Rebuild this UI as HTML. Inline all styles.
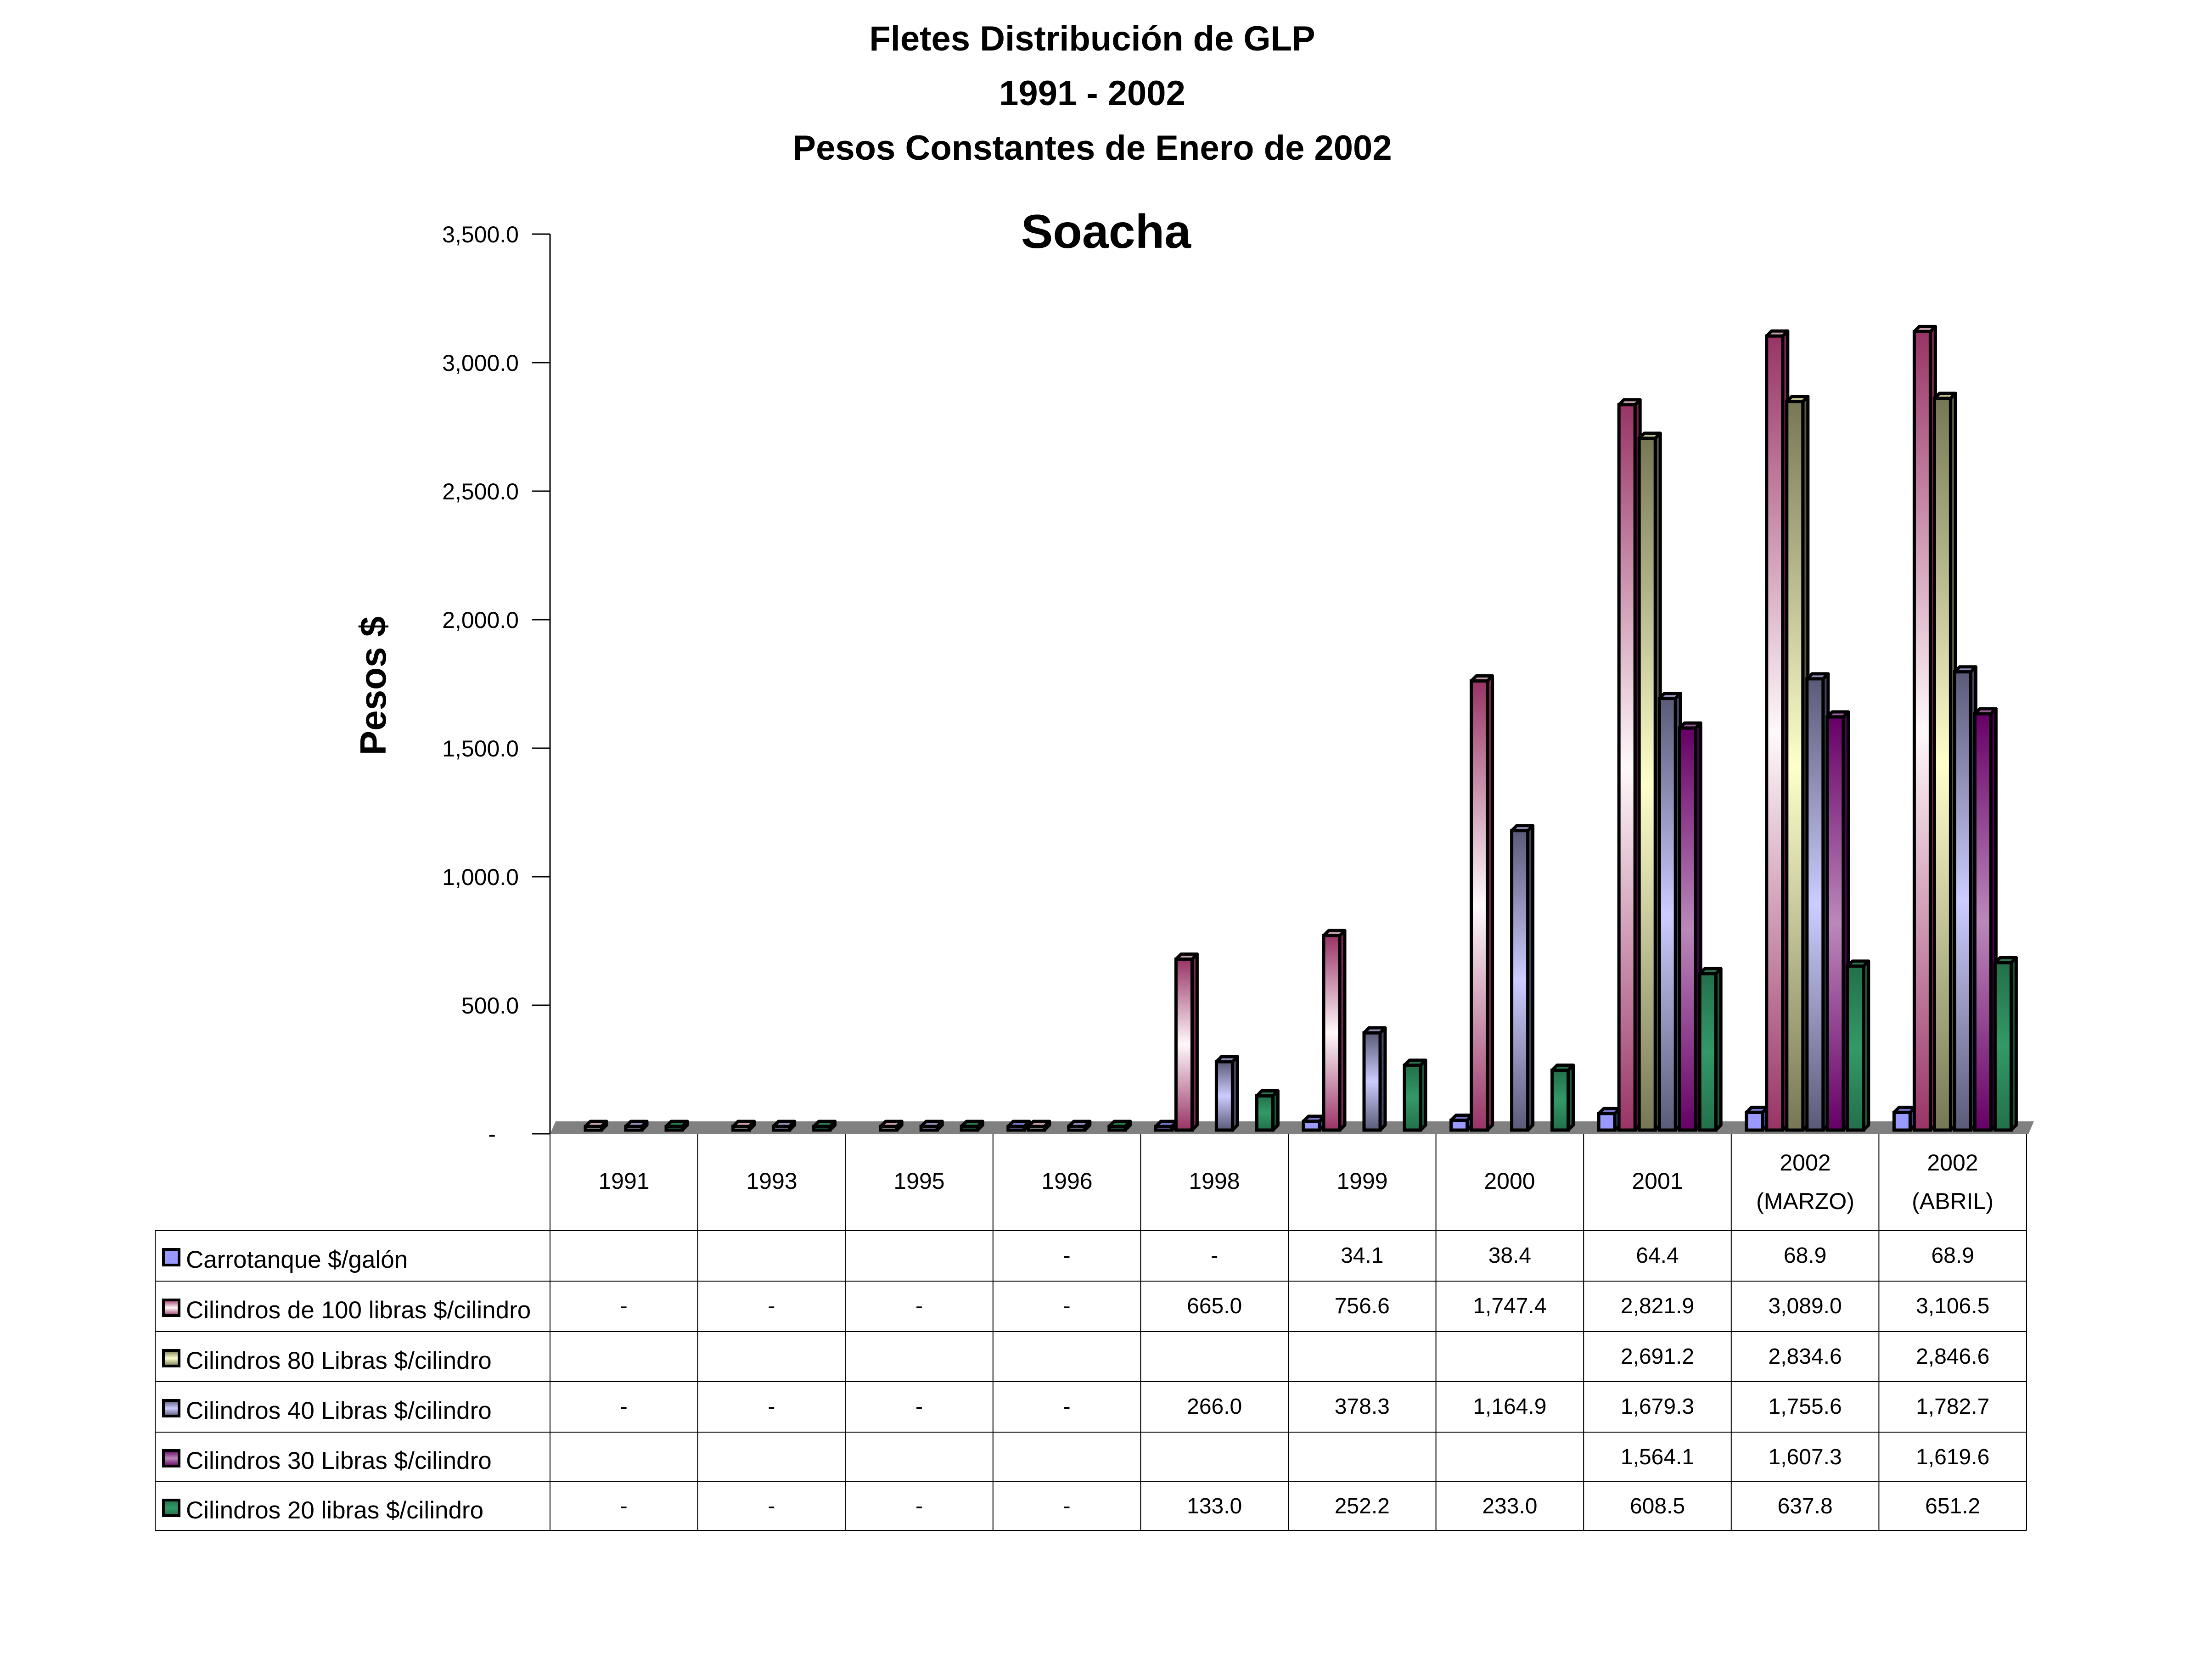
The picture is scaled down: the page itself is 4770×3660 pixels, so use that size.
<!DOCTYPE html>
<html><head><meta charset="utf-8"><style>
html,body{margin:0;padding:0;background:#fff}
svg{display:block}
text{font-family:"Liberation Sans",sans-serif;fill:#000}
</style></head><body>
<svg id="s" width="4770" height="3660" viewBox="0 0 4770 3660" xmlns="http://www.w3.org/2000/svg">
<defs>
<linearGradient id="g1" x1="0" y1="0" x2="0" y2="1"><stop offset="0" stop-color="#993366"/><stop offset="0.5" stop-color="#fff8fb"/><stop offset="1" stop-color="#993366"/></linearGradient>
<linearGradient id="g2" x1="0" y1="0" x2="0" y2="1"><stop offset="0" stop-color="#777755"/><stop offset="0.5" stop-color="#ffffcc"/><stop offset="1" stop-color="#777755"/></linearGradient>
<linearGradient id="g3" x1="0" y1="0" x2="0" y2="1"><stop offset="0" stop-color="#5a5a78"/><stop offset="0.5" stop-color="#ccccff"/><stop offset="1" stop-color="#5a5a78"/></linearGradient>
<linearGradient id="g4" x1="0" y1="0" x2="0" y2="1"><stop offset="0" stop-color="#660066"/><stop offset="0.5" stop-color="#bb88bb"/><stop offset="1" stop-color="#660066"/></linearGradient>
<linearGradient id="g5" x1="0" y1="0" x2="0" y2="1"><stop offset="0" stop-color="#22704a"/><stop offset="0.5" stop-color="#339966"/><stop offset="1" stop-color="#22704a"/></linearGradient>
</defs>
<g font-weight="bold" font-size="76" text-anchor="middle">
<text x="2379" y="110">Fletes  Distribución de GLP</text>
<text x="2379" y="229">1991 - 2002</text>
<text x="2379" y="348">Pesos Constantes de Enero de 2002</text>
<text x="2409" y="540" font-size="104">Soacha</text>
</g>
<text transform="translate(840,1494) rotate(-90)" font-size="80" font-weight="bold" text-anchor="middle">Pesos $</text>
<g font-size="50" text-anchor="end">
<text x="1130" y="528">3,500.0</text>
<text x="1130" y="808">3,000.0</text>
<text x="1130" y="1088">2,500.0</text>
<text x="1130" y="1368">2,000.0</text>
<text x="1130" y="1648">1,500.0</text>
<text x="1130" y="1928">1,000.0</text>
<text x="1130" y="2208">500.0</text>
<text x="1080" y="2488">-</text>
</g>
<g stroke="#000" stroke-width="3">
<line x1="1198" y1="510" x2="1198" y2="2470"/>
<line x1="1159" y1="510" x2="1198" y2="510"/><line x1="1159" y1="790" x2="1198" y2="790"/>
<line x1="1159" y1="1070" x2="1198" y2="1070"/><line x1="1159" y1="1350" x2="1198" y2="1350"/>
<line x1="1159" y1="1630" x2="1198" y2="1630"/><line x1="1159" y1="1910" x2="1198" y2="1910"/>
<line x1="1159" y1="2190" x2="1198" y2="2190"/><line x1="1159" y1="2470" x2="1198" y2="2470"/>
</g>
<polygon points="1210,2443 4430,2443 4418,2471 1198,2471" fill="#808080"/>
<g id="bars"></g>
<g stroke="#000" stroke-width="2" fill="none" id="grid"></g>
<g font-size="50" text-anchor="middle" id="tbl">
<text x="1359" y="2590">1991</text><text x="1681" y="2590">1993</text><text x="2002" y="2590">1995</text>
<text x="2324" y="2590">1996</text><text x="2645" y="2590">1998</text><text x="2967" y="2590">1999</text>
<text x="3288" y="2590">2000</text><text x="3610" y="2590">2001</text>
<text x="3932" y="2550">2002</text><text x="3932" y="2634">(MARZO)</text>
<text x="4253" y="2550">2002</text><text x="4253" y="2634">(ABRIL)</text>
</g>
<g font-size="53" id="lbl">
<text x="405" y="2762">Carrotanque $/galón</text>
<text x="405" y="2872">Cilindros de 100 libras $/cilindro</text>
<text x="405" y="2982">Cilindros 80 Libras $/cilindro</text>
<text x="405" y="3091">Cilindros 40 Libras $/cilindro</text>
<text x="405" y="3200">Cilindros 30 Libras $/cilindro</text>
<text x="405" y="3308">Cilindros 20 libras $/cilindro</text>
</g>
<g stroke="#000" stroke-width="6">
<rect x="356" y="2722" width="34" height="34" fill="#9999ff"/>
<rect x="356" y="2832" width="34" height="34" fill="url(#g1)"/>
<rect x="356" y="2942" width="34" height="34" fill="url(#g2)"/>
<rect x="356" y="3051" width="34" height="34" fill="url(#g3)"/>
<rect x="356" y="3160" width="34" height="34" fill="url(#g4)"/>
<rect x="356" y="3268" width="34" height="34" fill="url(#g5)"/>
</g>
<g font-size="48" text-anchor="middle" id="vals"></g>
</svg>
<script>
var NS="http://www.w3.org/2000/svg";
function el(p,t,a,txt){var e=document.createElementNS(NS,t);for(var k in a)e.setAttribute(k,a[k]);if(txt!=null)e.textContent=txt;document.getElementById(p).appendChild(e);return e;}
var X0=1198,W=321.6,Y0=2462,K=0.56;
var data=[
[null,null,null,0,0,34.1,38.4,64.4,68.9,68.9],
[0,0,0,0,665,756.6,1747.4,2821.9,3089,3106.5],
[null,null,null,null,null,null,null,2691.2,2834.6,2846.6],
[0,0,0,0,266,378.3,1164.9,1679.3,1755.6,1782.7],
[null,null,null,null,null,null,null,1564.1,1607.3,1619.6],
[0,0,0,0,133,252.2,233,608.5,637.8,651.2]];
var fills=["#9999ff","url(#g1)","url(#g2)","url(#g3)","url(#g4)","url(#g5)"];
var tops=["#7777cc","#c8a0b0","#c0c090","#9090b8","#9a5a9a","#2a7a50"];
var sides=["#5555aa","#7a2850","#5a5a40","#484866","#500050","#1a5a3a"];
var disp=[
["","","","-","-","34.1","38.4","64.4","68.9","68.9"],
["-","-","-","-","665.0","756.6","1,747.4","2,821.9","3,089.0","3,106.5"],
["","","","","","","","2,691.2","2,834.6","2,846.6"],
["-","-","-","-","266.0","378.3","1,164.9","1,679.3","1,755.6","1,782.7"],
["","","","","","","","1,564.1","1,607.3","1,619.6"],
["-","-","-","-","133.0","252.2","233.0","608.5","637.8","651.2"]];
var bw=35,d=11;
for(var c=0;c<10;c++){for(var s=0;s<6;s++){var v=data[s][c];if(v==null)continue;
var x=X0+c*W+33+s*44;var h=Math.max(v*K,8);var y=Y0-h;
el("bars","polygon",{points:(x+bw)+","+y+" "+(x+bw+d)+","+(y-d)+" "+(x+bw+d)+","+(Y0-d)+" "+(x+bw)+","+Y0,fill:sides[s],stroke:"#000","stroke-width":7,"stroke-linejoin":"round"});
el("bars","polygon",{points:x+","+y+" "+(x+d)+","+(y-d)+" "+(x+bw+d)+","+(y-d)+" "+(x+bw)+","+y,fill:tops[s],stroke:"#000","stroke-width":7,"stroke-linejoin":"round"});
el("bars","rect",{x:x,y:y,width:bw,height:h,fill:fills[s],stroke:"#000","stroke-width":7});
}}
var rows=[2471,2681,2791,2901,3010,3120,3227,3334];
for(var i=0;i<=10;i++){var x=X0+i*W;el("grid","line",{x1:x,y1:2471,x2:x,y2:3334});}
el("grid","line",{x1:338,y1:2681,x2:338,y2:3334});
for(var r=1;r<rows.length;r++)el("grid","line",{x1:338,y1:rows[r],x2:X0+10*W,y2:rows[r]});
for(var s=0;s<6;s++)for(var c=0;c<10;c++){if(disp[s][c])el("vals","text",{x:X0+c*W+W/2,y:rows[s+1]+70},disp[s][c]);}
</script>
</body></html>
